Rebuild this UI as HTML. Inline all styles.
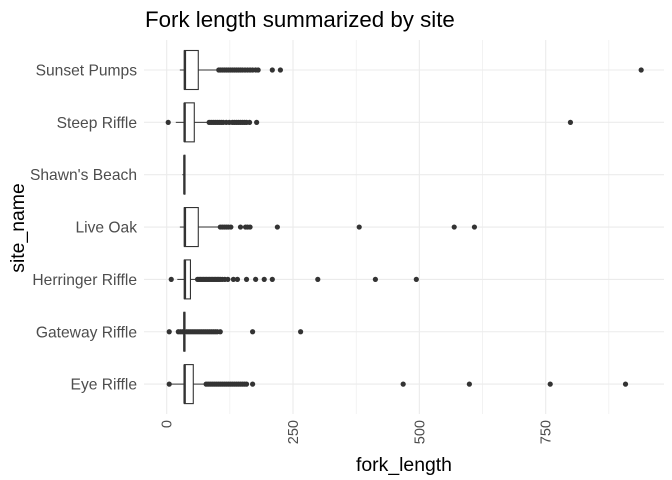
<!DOCTYPE html>
<html><head><meta charset="utf-8"><style>
body{margin:0;background:#fff;}
svg{display:block;font-family:"Liberation Sans",Arial,sans-serif;}
</style></head><body>
<svg id="chart" width="672" height="480" viewBox="0 0 672 480" xmlns="http://www.w3.org/2000/svg">
<text x="145" y="27" font-size="22.3" fill="#000">Fork length summarized by site</text>
<g id="grid"></g>
<g id="marks"></g>
<g id="axes"></g>
<text x="404" y="471" font-size="19.4" text-anchor="middle" fill="#000">fork_length</text>
<text transform="translate(24,228) rotate(-90)" font-size="19.4" text-anchor="middle" fill="#000">site_name</text>
</svg>
<script>
const sites = ["Sunset Pumps","Steep Riffle","Shawn's Beach","Live Oak","Herringer Riffle","Gateway Riffle","Eye Riffle"];
const whiskerLow = [26,18,31,26,21,25,8];
const q1 = [35,35,34.5,35,35,34,35];
const median = [36,35.5,35,36,36,35,35.5];
const q3 = [62.5,54.6,36,62.5,47,36,52.6];
const whiskerHigh = [102,84,35,102,61,36,76];
const outliers = [
 [103,106,110,114,118,122,126,130,134,138,142,146,150,155,160,165,170,176,181,209,225,939],
 [3,84,88,92,96,100,104,108,112,118,124,130,134,138,142,146,150,154,158,164,178,799],
 [],
 [106,110,114,118,122,127,146,156,160,165,219,381,569,609],
 [9,61,64,67,70,73,76,79,82,85,88,91,94,97,100,103,106,110,115,121,132,140,158,176,193,209,299,413,494],
 [5,23,27,31,40,44,48,52,56,60,64,68,72,76,80,84,88,92,96,100,106,170,265],
 [5,78,82,86,90,94,98,102,106,110,114,118,122,126,130,134,138,142,146,150,154,158,170,468,599,759,908]
];
const xTicks = [0,250,500,750];
const xMinor = [125,375,625,875];

const NS="http://www.w3.org/2000/svg";
const L=144,R=664,T=40,B=414;
const x0=166.7,k=0.5053;
const xs=v=>x0+v*k;
const rowY=i=>70+i*52.35;
function mk(tag,attrs,parent){const e=document.createElementNS(NS,tag);for(const a in attrs)e.setAttribute(a,attrs[a]);parent.appendChild(e);return e;}
const grid=document.getElementById('grid'),marks=document.getElementById('marks'),axes=document.getElementById('axes');
xMinor.forEach(v=>{const l=mk('line',{x1:xs(v),x2:xs(v),y1:T,y2:B,stroke:'#ebebeb','stroke-width':0.6},grid);

});
xTicks.forEach(v=>{const l=mk('line',{x1:xs(v),x2:xs(v),y1:T,y2:B,stroke:'#ebebeb','stroke-width':1.1},grid);


const t=mk('text',{transform:`translate(${xs(v)+5},${420}) rotate(-90)`,'font-size':14.5,fill:'#4d4d4d','text-anchor':'end'},axes);
t.textContent=v;

});
sites.forEach((s,i)=>{const y=rowY(i);
const g=mk('line',{x1:L,x2:R,y1:y,y2:y,stroke:'#ebebeb','stroke-width':1.1},grid);


const t=mk('text',{x:137,y:y+5.5,'font-size':15.6,fill:'#4d4d4d','text-anchor':'end'},axes);
t.textContent=s;


const h=19.5;
const w1=mk('line',{x1:xs(whiskerLow[i]),x2:xs(q1[i]),y1:y,y2:y,stroke:'#333','stroke-width':1},marks);


const w2=mk('line',{x1:xs(q3[i]),x2:xs(whiskerHigh[i]),y1:y,y2:y,stroke:'#333','stroke-width':1},marks);


const b=mk('rect',{x:xs(q1[i]),y:y-h,width:Math.max(0.5,xs(q3[i])-xs(q1[i])),height:2*h,fill:'#fff',stroke:'#333','stroke-width':1.1},marks);


const m=mk('line',{x1:xs(median[i]),x2:xs(median[i]),y1:y-h,y2:y+h,stroke:'#333','stroke-width':2.4},marks);


outliers[i].forEach(v=>{const c=mk('circle',{cx:xs(v),cy:y,r:2.6,fill:'#333'},marks);

});
});
</script>
</body></html>
